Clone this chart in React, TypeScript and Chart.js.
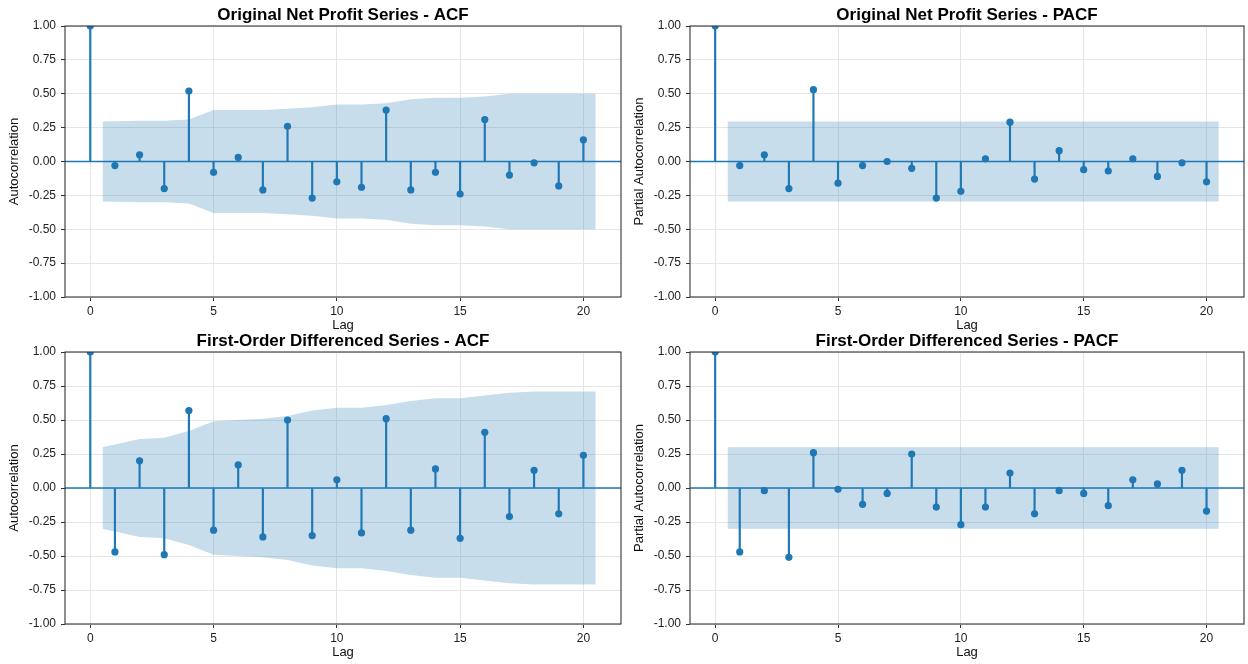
import React, { useEffect, useRef } from 'react';
import { Chart, registerables } from 'chart.js';

Chart.register(...registerables);
Chart.defaults.font.family = "'Liberation Sans', Arial, Helvetica, sans-serif";

// ---- data ----
const LAGS = [0, 1, 2, 3, 4, 5, 6, 7, 8, 9, 10, 11, 12, 13, 14, 15, 16, 17, 18, 19, 20];
const X_TICKS = [0, 5, 10, 15, 20];
const Y_TICKS = [-1, -0.75, -0.5, -0.25, 0, 0.25, 0.5, 0.75, 1];

const ORIG_ACF = [1.0, -0.03, 0.05, -0.2, 0.52, -0.08, 0.03, -0.21, 0.26, -0.27, -0.15, -0.19, 0.38, -0.21, -0.08, -0.24, 0.31, -0.1, -0.01, -0.18, 0.16];
const ORIG_ACF_BAND = [0.295, 0.3, 0.3, 0.31, 0.38, 0.38, 0.38, 0.39, 0.4, 0.42, 0.42, 0.43, 0.46, 0.47, 0.47, 0.48, 0.5, 0.5, 0.5, 0.5];

const ORIG_PACF = [1.0, -0.03, 0.05, -0.2, 0.53, -0.16, -0.03, 0.0, -0.05, -0.27, -0.22, 0.02, 0.29, -0.13, 0.08, -0.06, -0.07, 0.02, -0.11, -0.01, -0.15];
const ORIG_PACF_BAND = [0.295, 0.295, 0.295, 0.295, 0.295, 0.295, 0.295, 0.295, 0.295, 0.295, 0.295, 0.295, 0.295, 0.295, 0.295, 0.295, 0.295, 0.295, 0.295, 0.295];

const DIFF_ACF = [1.0, -0.47, 0.2, -0.49, 0.57, -0.31, 0.17, -0.36, 0.5, -0.35, 0.06, -0.33, 0.51, -0.31, 0.14, -0.37, 0.41, -0.21, 0.13, -0.19, 0.24];
const DIFF_ACF_BAND = [0.3, 0.36, 0.37, 0.42, 0.49, 0.5, 0.51, 0.53, 0.57, 0.59, 0.59, 0.61, 0.64, 0.66, 0.66, 0.68, 0.7, 0.71, 0.71, 0.71];

const DIFF_PACF = [1.0, -0.47, -0.02, -0.51, 0.26, -0.01, -0.12, -0.04, 0.25, -0.14, -0.27, -0.14, 0.11, -0.19, -0.02, -0.04, -0.13, 0.06, 0.03, 0.13, -0.17];
const DIFF_PACF_BAND = [0.3, 0.3, 0.3, 0.3, 0.3, 0.3, 0.3, 0.3, 0.3, 0.3, 0.3, 0.3, 0.3, 0.3, 0.3, 0.3, 0.3, 0.3, 0.3, 0.3];

const TITLES = [
  'Original Net Profit Series - ACF',
  'Original Net Profit Series - PACF',
  'First-Order Differenced Series - ACF',
  'First-Order Differenced Series - PACF',
];
const Y_LABELS = ['Autocorrelation', 'Partial Autocorrelation', 'Autocorrelation', 'Partial Autocorrelation'];
const X_LABEL = 'Lag';

// ---- style / layout ----
const BLUE = '#1f77b4';
const BAND_COLOR = 'rgba(31,119,180,0.25)';
const GRID_COLOR = '#e6e6e6';
const X_MIN = -1.025;
const X_MAX = 21.525;

type PanelSpec = {
  title: string;
  yLabel: string;
  values: number[];
  band: number[];
  left: number;
  top: number;
  width: number;
  height: number;
  pad: { top: number; right: number; bottom: number; left: number };
};

const PANELS: PanelSpec[] = [
  { title: TITLES[0], yLabel: Y_LABELS[0], values: ORIG_ACF, band: ORIG_ACF_BAND, left: 0, top: 0, width: 626, height: 334, pad: { top: 26, right: 5, bottom: 0, left: 0 } },
  { title: TITLES[1], yLabel: Y_LABELS[1], values: ORIG_PACF, band: ORIG_PACF_BAND, left: 625, top: 0, width: 623, height: 334, pad: { top: 26, right: 2, bottom: 0, left: 0 } },
  { title: TITLES[2], yLabel: Y_LABELS[2], values: DIFF_ACF, band: DIFF_ACF_BAND, left: 0, top: 334, width: 626, height: 330, pad: { top: 18, right: 5, bottom: 3, left: 0 } },
  { title: TITLES[3], yLabel: Y_LABELS[3], values: DIFF_PACF, band: DIFF_PACF_BAND, left: 625, top: 334, width: 623, height: 330, pad: { top: 18, right: 2, bottom: 3, left: 0 } },
];

const framePlugin = {
  id: 'frame',
  afterDatasetsDraw(chart: any, _args: any, opts: any) {
    const { ctx, chartArea: a } = chart;
    ctx.save();
    ctx.strokeStyle = '#333333';
    ctx.lineWidth = 1.1;
    ctx.strokeRect(a.left, a.top, a.right - a.left, a.bottom - a.top);
    ctx.fillStyle = '#000000';
    ctx.font = "bold 17px 'Liberation Sans', Arial, Helvetica, sans-serif";
    ctx.textAlign = 'center';
    ctx.textBaseline = 'middle';
    ctx.fillText(opts.text, (a.left + a.right) / 2, a.top - 11);
    ctx.restore();
  },
};

function buildConfig(p: PanelSpec): any {
  const lagsNoZero = LAGS.slice(1);
  const bandX = lagsNoZero.map((l, i, arr) => (i === 0 ? l - 0.5 : i === arr.length - 1 ? l + 0.5 : l));
  const upper = bandX.map((x, i) => ({ x, y: p.band[i] }));
  const lower = bandX.map((x, i) => ({ x, y: -p.band[i] }));
  const stems = LAGS.map((l, i) => ({ x: l, y: [0, p.values[i]] }));
  const points = LAGS.map((l, i) => ({ x: l, y: p.values[i] }));
  const zero = [{ x: X_MIN, y: 0 }, { x: X_MAX, y: 0 }];

  const tickFont = { size: 12 };
  return {
    type: 'scatter',
    data: {
      datasets: [
        { type: 'line', data: upper, borderColor: 'transparent', borderWidth: 0, pointRadius: 0, fill: false, tension: 0, order: 4 },
        { type: 'line', data: lower, borderColor: 'transparent', borderWidth: 0, pointRadius: 0, fill: '-1', backgroundColor: BAND_COLOR, tension: 0, order: 3 },
        { type: 'line', data: zero, borderColor: BLUE, borderWidth: 1.5, pointRadius: 0, fill: false, order: 2 },
        { type: 'bar', data: stems, backgroundColor: BLUE, borderWidth: 0, barThickness: 1.5, grouped: false, order: 1 },
        { type: 'scatter', data: points, pointRadius: 3.6, pointBackgroundColor: BLUE, pointBorderWidth: 0, pointBorderColor: BLUE, clip: 0, order: 0 },
      ],
    },
    options: {
      responsive: false,
      animation: false,
      events: [],
      devicePixelRatio: 1,
      layout: { padding: p.pad },
      plugins: {
        legend: { display: false },
        tooltip: { enabled: false },
        title: { display: false },
        frame: { text: p.title },
      },
      scales: {
        x: {
          type: 'linear',
          min: X_MIN,
          max: X_MAX,
          offset: false,
          afterBuildTicks: (s: any) => {
            s.ticks = X_TICKS.map((v) => ({ value: v }));
          },
          afterFit: (s: any) => {
            s.height = 37;
          },
          grid: { offset: false, color: GRID_COLOR, lineWidth: 1, tickColor: '#333333', tickLength: 4, tickWidth: 1 },
          border: { display: false },
          ticks: { font: tickFont, color: '#222222', padding: 3, maxRotation: 0, autoSkip: false, callback: (v: any) => String(v) },
          title: { display: true, text: X_LABEL, font: { size: 13 }, color: '#111111', padding: { top: 0, bottom: 1 } },
        },
        y: {
          type: 'linear',
          min: -1,
          max: 1,
          afterBuildTicks: (s: any) => {
            s.ticks = Y_TICKS.map((v) => ({ value: v }));
          },
          afterFit: (s: any) => {
            s.width = 65;
          },
          grid: { color: GRID_COLOR, lineWidth: 1, tickColor: '#333333', tickLength: 4, tickWidth: 1 },
          border: { display: false },
          ticks: { font: tickFont, color: '#222222', padding: 5, autoSkip: false, callback: (v: any) => Number(v).toFixed(2) },
          title: { display: true, text: p.yLabel, font: { size: 13 }, color: '#111111', padding: { top: 7, bottom: 0 } },
        },
      },
    },
    plugins: [framePlugin],
  };
}

function Panel({ spec }: { spec: PanelSpec }) {
  const ref = useRef<HTMLCanvasElement | null>(null);
  useEffect(() => {
    if (!ref.current) return;
    const chart = new Chart(ref.current, buildConfig(spec));
    return () => chart.destroy();
  }, [spec]);
  return (
    <canvas
      ref={ref}
      width={spec.width}
      height={spec.height}
      style={{ position: 'absolute', left: spec.left, top: spec.top, width: spec.width, height: spec.height }}
    />
  );
}

export default function App() {
  return (
    <div style={{ position: 'fixed', left: 0, top: 0, width: 1248, height: 664, background: '#ffffff', overflow: 'hidden' }}>
      {PANELS.map((p, i) => (
        <Panel key={i} spec={p} />
      ))}
    </div>
  );
}
